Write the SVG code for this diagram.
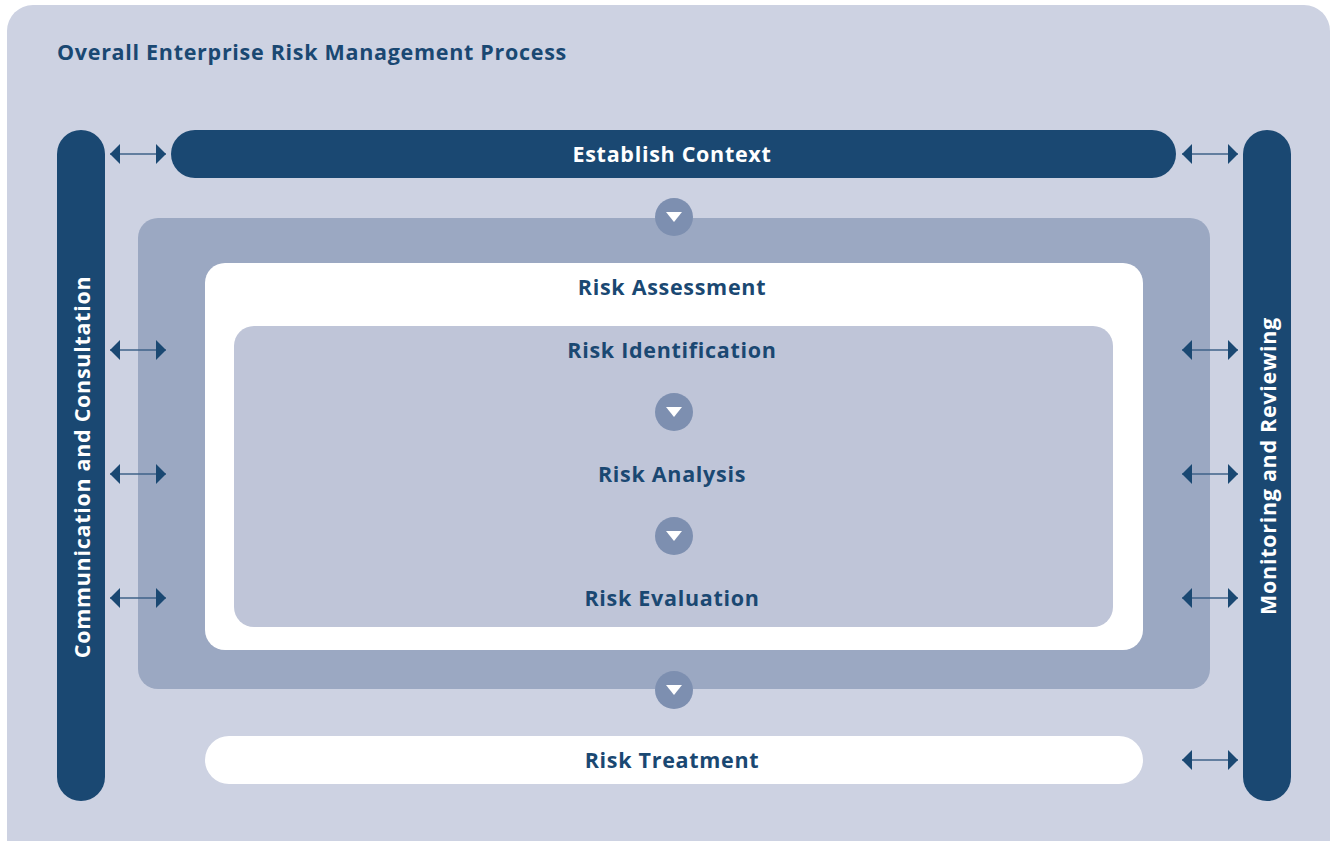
<svg xmlns="http://www.w3.org/2000/svg" width="1333" height="841" viewBox="0 0 1333 841">
<defs>
<style>
.t{font-family:"Open Sans","Liberation Sans",sans-serif;font-weight:bold;font-size:21.5px;fill:#1a4872;text-anchor:middle;dominant-baseline:central;letter-spacing:0.7px}
.w{fill:#ffffff}
.dark{fill:#1a4872}
.ln{stroke:#3e6289;stroke-width:1.6;fill:none}
.circ{fill:#7d8fb0}
</style>
<marker id="ah" viewBox="0 0 10 20" refX="10" refY="10" markerWidth="10" markerHeight="20" markerUnits="userSpaceOnUse" orient="auto-start-reverse">
<path d="M0,0 L10,10 L0,20 Z" fill="#1a4872"/>
</marker>
</defs>
<rect x="7" y="5" width="1323" height="860" rx="26" fill="#cdd2e2"/>
<text x="57" y="51" class="t" style="text-anchor:start">Overall Enterprise Risk Management Process</text>

<g id="communication">
<rect x="57" y="130" width="48" height="671" rx="24" class="dark"/>
<text class="t w" transform="translate(81,467) rotate(-90)">Communication and Consultation</text>
</g>
<g id="monitoring">
<rect x="1243" y="130" width="48" height="671" rx="24" class="dark"/>
<text class="t w" transform="translate(1267,466) rotate(-90)">Monitoring and Reviewing</text>
</g>
<g id="context">
<rect x="171" y="130" width="1005" height="48" rx="24" class="dark"/>
<text x="672" y="153" class="t w">Establish Context</text>
</g>
<g id="outer-process">
<rect x="138" y="218" width="1072" height="471" rx="20" fill="#9ba8c2"/>
</g>
<g id="assessment">
<rect x="205" y="263" width="938" height="387" rx="20" fill="#ffffff"/>
<text x="672" y="286" class="t">Risk Assessment</text>
</g>
<g id="inner">
<rect x="234" y="326" width="879" height="301" rx="20" fill="#bfc5d8"/>
</g>
<g id="identification"><text x="672" y="349" class="t">Risk Identification</text></g>
<g id="analysis"><text x="672" y="473" class="t">Risk Analysis</text></g>
<g id="evaluation"><text x="672" y="597" class="t">Risk Evaluation</text></g>
<g id="treatment">
<rect x="205" y="736" width="938" height="48" rx="24" fill="#ffffff"/>
<text x="672" y="759" class="t">Risk Treatment</text>
</g>

<g id="connectors">
<g>
<circle cx="674" cy="217" r="19" class="circ"/><path d="M666,212 L682,212 L674,222 Z" fill="#fff"/>
<circle cx="674" cy="412" r="19" class="circ"/><path d="M666,407 L682,407 L674,417 Z" fill="#fff"/>
<circle cx="674" cy="536" r="19" class="circ"/><path d="M666,531 L682,531 L674,541 Z" fill="#fff"/>
<circle cx="674" cy="690" r="19" class="circ"/><path d="M666,685 L682,685 L674,695 Z" fill="#fff"/>
</g>
<line x1="110" y1="154" x2="166" y2="154" class="ln" marker-start="url(#ah)" marker-end="url(#ah)"/>
<line x1="110" y1="350" x2="166" y2="350" class="ln" marker-start="url(#ah)" marker-end="url(#ah)"/>
<line x1="110" y1="474" x2="166" y2="474" class="ln" marker-start="url(#ah)" marker-end="url(#ah)"/>
<line x1="110" y1="598" x2="166" y2="598" class="ln" marker-start="url(#ah)" marker-end="url(#ah)"/>
<line x1="1182" y1="154" x2="1238" y2="154" class="ln" marker-start="url(#ah)" marker-end="url(#ah)"/>
<line x1="1182" y1="350" x2="1238" y2="350" class="ln" marker-start="url(#ah)" marker-end="url(#ah)"/>
<line x1="1182" y1="474" x2="1238" y2="474" class="ln" marker-start="url(#ah)" marker-end="url(#ah)"/>
<line x1="1182" y1="598" x2="1238" y2="598" class="ln" marker-start="url(#ah)" marker-end="url(#ah)"/>
<line x1="1182" y1="760" x2="1238" y2="760" class="ln" marker-start="url(#ah)" marker-end="url(#ah)"/>
</g>
</svg>
